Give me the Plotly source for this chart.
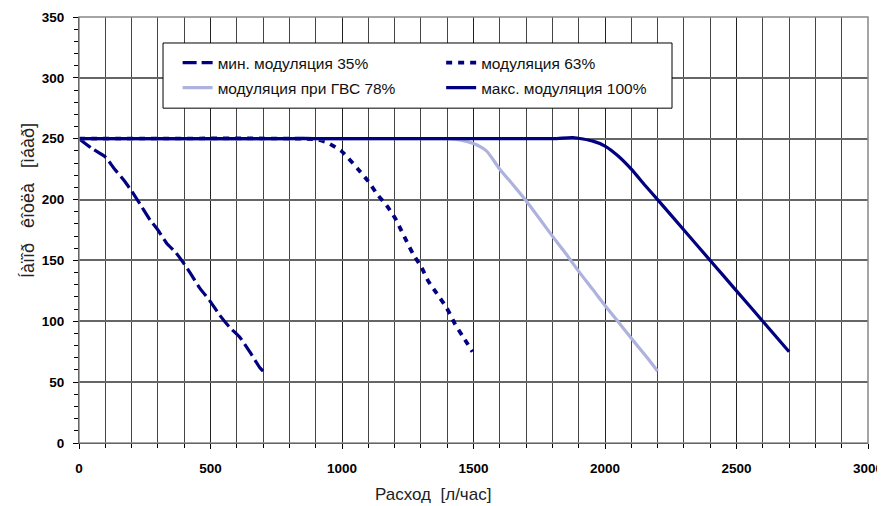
import plotly.graph_objects as go

# ---- data ----
x35 = [0, 49, 100, 132, 170, 200, 233, 271, 300, 334, 366, 397, 428, 460, 497, 535, 573, 611, 655, 687, 700]
y35 = [250, 242, 235, 226, 216, 207, 196, 183, 175, 164, 157, 148, 138, 127, 117, 105, 95, 87, 73, 62, 59]

x63 = [0, 850, 900, 942, 997, 1061, 1100, 1135, 1170, 1201, 1220, 1245, 1271, 1303, 1328, 1360, 1398, 1429, 1461, 1496]
y63 = [250, 250, 249.5, 247, 240, 225, 215, 204, 195, 185, 177, 166, 155, 144, 133, 123, 111, 98, 87, 75]

x78 = [0, 800, 850, 900, 1400, 1448, 1500, 1549, 1600, 1651, 1700, 1752, 1800, 1853, 1900, 1954, 2000, 2056, 2100, 2157, 2200]
y78 = [250, 250, 251, 250, 250, 249, 246, 240, 225, 212, 199, 184, 170, 155, 141, 126, 113, 98, 86, 71, 59]

x100 = [0, 1800, 1878, 1954, 2000, 2049, 2100, 2151, 2200, 2300, 2400, 2500, 2600, 2700]
y100 = [250, 250, 251, 248, 244, 236, 225, 212, 200, 175, 150, 125, 100, 75]

names = ["мин. модуляция 35%", "модуляция 63%", "модуляция при ГВС 78%", "макс. модуляция 100%"]
x_title = "Расход  [л/час]"
y_title = "Íàïîð   êîòëà   [ìáàð]"

NAVY = "#000080"
LAV = "#aeb2de"

fig = go.Figure()
fig.add_trace(go.Scatter(x=x35, y=y35, mode="lines", name=names[0], legend="legend",
                         legendgroup="a", line=dict(color=NAVY, width=3.2, dash="14px,5px", shape="spline", smoothing=0.6)))
fig.add_trace(go.Scatter(x=x63, y=y63, mode="lines", name=names[1], legend="legend2",
                         legendgroup="b", line=dict(color=NAVY, width=3.8, dash="6px,6px", shape="spline", smoothing=0.6)))
fig.add_trace(go.Scatter(x=x78, y=y78, mode="lines", name=names[2], legend="legend",
                         legendgroup="c", line=dict(color=LAV, width=3.2, shape="spline", smoothing=0.6)))
fig.add_trace(go.Scatter(x=x100, y=y100, mode="lines", name=names[3], legend="legend2",
                         legendgroup="d", line=dict(color=NAVY, width=3.2, shape="spline", smoothing=0.6)))

FONT = "Liberation Sans, Arial, sans-serif"
tickfont = dict(family=FONT, size=13.5, color="#000", weight="bold")
legfont = dict(family=FONT, size=15.5, color="#111")

fig.update_layout(
    width=877, height=498,
    margin=dict(l=71, r=17, t=9, b=63),
    paper_bgcolor="white", plot_bgcolor="white",
    font=dict(family=FONT, color="#000"),
    xaxis=dict(range=[0, 3000], dtick=500, tick0=0, showgrid=True, gridcolor="#222", gridwidth=1,
               automargin=False,
               minor=dict(dtick=100, showgrid=True, gridcolor="#444", gridwidth=1,
                          ticks="outside", ticklen=4, tickcolor="#000"),
               ticks="outside", ticklen=5, tickcolor="#000", showline=True, linecolor="#000", linewidth=1,
               tickfont=tickfont, zeroline=False, ticklabelstandoff=8),
    yaxis=dict(range=[0, 350], dtick=50, tick0=0, showgrid=True, gridcolor="#666", gridwidth=1.5,
               automargin=False,
               minor=dict(dtick=10, showgrid=False, ticks="outside", ticklen=4, tickcolor="#000"),
               ticks="outside", ticklen=5, tickcolor="#000", showline=True, linecolor="#000", linewidth=1,
               tickfont=tickfont, zeroline=False, ticklabelstandoff=6),
    legend=dict(x=0.125, y=0.932, xanchor="left", yanchor="top", bgcolor="rgba(0,0,0,0)",
                borderwidth=0, tracegroupgap=2, font=legfont),
    legend2=dict(x=0.459, y=0.932, xanchor="left", yanchor="top", bgcolor="rgba(0,0,0,0)",
                 borderwidth=0, tracegroupgap=2, font=legfont),
    annotations=[
        dict(text=x_title, xref="paper", yref="paper", x=0.4487, y=-0.122, xanchor="center",
             yanchor="middle", showarrow=False, font=dict(family=FONT, size=17, color="#222")),
        dict(text=y_title, xref="paper", yref="paper", x=-0.0646, y=0.568, xanchor="center",
             yanchor="middle", textangle=-90, showarrow=False,
             font=dict(family=FONT, size=18, color="#222")),
    ],
    shapes=[
        dict(type="rect", xref="paper", yref="paper", x0=0, x1=1, y0=0, y1=1,
             line=dict(color="#888", width=1.5), layer="above"),
        dict(type="rect", xref="paper", yref="paper", x0=0.1065, x1=0.7516, y0=0.786, y1=0.939,
             line=dict(color="#000", width=1), fillcolor="white", layer="above"),
    ],
)

fig.write_html("out.html")
